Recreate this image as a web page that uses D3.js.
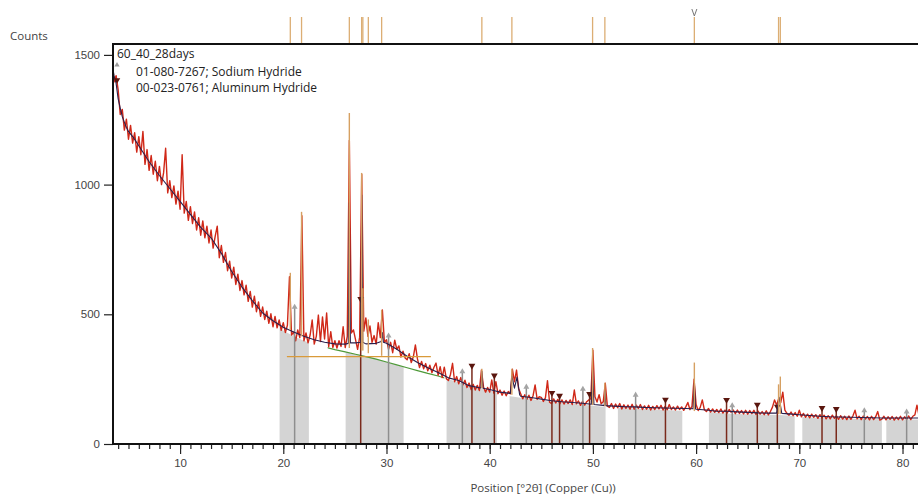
<!DOCTYPE html>
<html>
<head>
<meta charset="utf-8">
<script src="https://cdn.jsdelivr.net/npm/d3@7/dist/d3.min.js"></script>
<style>
body { margin: 0; background: #fff; overflow: hidden; }
svg { display: block; font-family: "Open Sans", "Noto Sans", sans-serif; }
</style>
</head>
<body>
<svg></svg>
<script>
var WIDTH = 918;
var HEIGHT = 494;

// scan: measured counts, one row per degree, 0.2 deg apart
var obsStart = 3.0;
var obsStep = 0.2;
var observed = [
    1610, 1540, 1495, 1395, 1420,   // 3
    1365, 1270, 1290, 1210, 1252,   // 4
    1175, 1228, 1160, 1200, 1125,
    1185, 1115, 1205, 1078, 1135,
    1055, 1112, 1040, 1090, 1015,
    1070, 1000, 1045, 1140, 968,
    1015, 950, 995, 925, 975,
    905, 1115, 890, 935, 862,       // 10
    915, 850, 895, 825, 872,
    805, 860, 795, 840, 775,
    825, 755, 800, 840, 718,
    765, 700, 738, 668, 705,
    640, 682, 615, 655, 592,
    630, 575, 612, 550, 588,
    528, 570, 510, 548, 492,
    528, 480, 512, 465, 502,
    452, 492, 448, 478, 438,
    468, 430, 458, 645, 420,        // 20
    432, 398, 440, 410, 880,
    398, 428, 390, 420, 478,
    385, 415, 497, 395, 490,
    405, 505, 375, 433, 372,
    398, 370, 398, 376, 452,
    372, 415, 1170, 428, 440,
    402, 365, 412, 1040, 435,
    486, 415, 455, 392, 418,
    385, 468, 410, 517, 392,
    402, 365, 392, 352, 400,        // 30
    365, 378, 335, 358, 332,
    325, 348, 314, 336, 382,
    328, 295, 318, 290, 310,
    282, 304, 275, 296, 312,
    265, 298, 256, 296, 252,
    245, 268, 311, 240, 260,
    232, 256, 228, 246, 218,
    235, 210, 230, 208, 226,
    206, 285, 220, 200, 218,
    200, 247, 196, 240, 194,        // 40
    208, 188, 204, 186, 202,
    194, 288, 240, 285, 214,
    194, 174, 190, 172, 188,
    168, 186, 228, 172, 182,
    180, 164, 178, 244, 161,
    156, 174, 158, 172, 155,
    170, 154, 168, 156, 170,
    152, 208, 155, 166, 149,
    165, 150, 163, 170, 175,
    362, 182, 162, 190, 155,        // 50
    163, 234, 146, 141, 156,
    137, 154, 140, 156, 135,
    151, 137, 150, 134, 153,
    134, 150, 137, 152, 133,
    147, 134, 149, 131, 145,
    133, 148, 135, 149, 131,
    145, 132, 152, 133, 143,
    131, 146, 133, 143, 130,
    143, 160, 133, 145, 250,
    152, 129, 141, 170, 132,        // 60
    125, 137, 123, 135, 122,
    133, 121, 135, 119, 131,
    119, 133, 122, 131, 117,
    131, 118, 129, 116, 130,
    115, 129, 117, 130, 114,
    127, 115, 125, 113, 128,
    112, 125, 142, 170, 150,
    175, 160, 200, 131, 118,
    111, 123, 109, 121, 107,
    130, 105, 118, 103, 115,        // 70
    101, 115, 103, 113, 99,
    113, 100, 111, 97, 109,
    97, 111, 99, 109, 95,
    109, 96, 107, 94, 108,
    95, 109, 130, 97, 107,
    94, 108, 96, 106, 93,
    107, 94, 105, 125, 92,
    96, 107, 93, 105, 95,
    106, 92, 104, 94, 107,
    93, 105, 95, 108, 94,           // 80
    107, 112, 150, 110, 97,
    102
];

// calculated profile [pos, counts]
var calculated = [
    [3.4, 1470], [3.6, 1420], [3.8, 1390], [4.0, 1330], [4.2, 1295], [4.4, 1262], [4.6, 1240],
    [4.8, 1220], [5, 1205], [5.5, 1180], [6, 1150], [7, 1088], [8, 1035], [9, 985], [10, 935],
    [11, 885], [12, 835], [13, 795], [14, 735], [15, 665], [16, 605], [17, 553], [18, 505],
    [19, 475], [20, 450], [21, 432], [22, 415], [23, 402], [24, 392], [25, 386], [26, 385],
    [26.3, 388], [26.4, 930], [26.5, 390], [27, 390], [27.5, 392], [27.6, 960], [27.7, 392],
    [28, 386], [29, 388], [29.5, 395], [29.6, 430], [29.7, 392], [30, 388], [31, 365],
    [32, 338], [33, 314], [34, 294], [35, 276], [36, 255], [37, 245], [38, 225], [39, 217],
    [39.15, 216], [39.24, 280], [39.35, 215], [40, 210], [41, 200], [42, 195], [42.15, 262],
    [42.4, 215], [42.65, 258], [42.9, 190], [43, 184], [44, 179], [45, 173], [46, 167],
    [47, 163], [48, 160], [49, 157], [49.85, 153], [49.97, 290], [50.1, 152], [51, 149],
    [51.1, 148], [51.16, 205], [51.25, 148], [52, 146], [53, 144], [54, 143], [55, 141],
    [56, 140], [57, 139], [58, 138], [59, 137], [59.7, 136], [59.83, 235], [59.95, 135],
    [60, 134], [61, 131], [62, 126], [63, 126], [64, 124], [65, 122], [66, 120], [67, 119],
    [67.8, 119], [68.05, 180], [68.3, 118], [69, 116], [70, 113], [71, 110], [72, 107],
    [73, 105], [74, 104], [75, 103], [76, 102], [77, 101], [78, 100], [79, 100], [80, 100],
    [81, 100], [82, 100]
];

// background [pos, counts]
var background = [
    [3.4, 1470], [3.6, 1420], [3.8, 1390], [4, 1330], [4.4, 1262], [5, 1205], [6, 1150],
    [7, 1088], [8, 1035], [9, 985], [10, 935], [11, 885], [12, 835], [13, 795], [14, 735],
    [15, 665], [16, 605], [17, 553], [18, 505], [19, 468], [20, 438], [21, 415], [22, 398],
    [23, 385], [24, 374], [25, 364], [26, 355], [27, 346], [28, 337], [29, 327], [30, 316],
    [31, 305], [32, 294], [33, 283], [34, 272], [35, 262], [36, 250], [37, 238], [38, 224],
    [39, 214], [40, 206], [41, 196], [42, 184], [43, 178], [44, 173], [45, 168], [46, 163],
    [47, 159], [48, 155], [49, 151], [50, 147], [51, 144], [52, 141], [53, 139], [54, 137],
    [55, 135], [56, 133], [57, 131], [58, 129], [59, 127], [60, 125], [61, 123], [62, 120],
    [63, 118], [64, 116], [65, 115], [66, 114], [67, 113], [68, 112], [69, 110], [70, 105],
    [71, 102], [72, 100], [73, 99], [74, 98], [75, 97], [76, 96], [77, 95], [78, 95],
    [79, 94], [80, 94], [81, 94], [82, 94]
];

// background-fit ranges (grey)
var bgRanges = [
    [19.64, 22.48], [26.04, 31.66], [35.82, 40.70], [41.93, 51.23], [52.42, 58.66],
    [61.24, 69.55], [70.29, 78.0], [78.43, 90]
];
var bgLineRange = [24.3, 35.6];

// peak list: position, top counts, base counts
var peakPos = [20.68, 21.77, 26.40, 27.59, 27.71, 28.24, 29.53, 39.24, 42.15, 49.97, 51.16, 59.83, 67.99, 68.16];
var peakTop = [660, 895, 1276, 1045, 600, 480, 517, 290, 290, 370, 236, 314, 230, 260];
var peakBase = [440, 415, 370, 360, 360, 350, 340, 215, 190, 150, 146, 127, 115, 115];
var selectedPeak = 59.83;

// reference patterns
var sodiumPos = [21.1, 30.2, 37.35, 43.55, 49.03, 54.14, 63.5, 76.3, 80.4];
var sodiumCounts = [524, 413, 275, 216, 208, 185, 144, 125, 120];
var aluminumPos = [27.5, 38.28, 40.45, 46.03, 46.77, 49.68, 57.03, 62.95, 65.93, 67.87, 72.2, 73.58];
var aluminumCounts = [555, 298, 260, 193, 182, 189, 167, 166, 148, 140, 135, 131];

var fwhmLine = { from: 20.35, to: 34.3, counts: 337 };

var yTicks = [0, 500, 1000, 1500];
var xTicks = [10, 20, 30, 40, 50, 60, 70, 80];

var legendTitle = '60_40_28days';
var legendItems = ['01-080-7267; Sodium Hydride', '00-023-0761; Aluminum Hydride'];

// layout
var plotLeft = 113, plotTop = 44, plotBottom = 444, plotRight = 973;

var svg = d3.select('svg').attr('width', WIDTH).attr('height', HEIGHT);

var x = d3.scaleLinear().domain([3.5, 86.83]).range([plotLeft, plotRight]);
var y = d3.scaleLinear().domain([0, 1542]).range([plotBottom, plotTop]);

var defs = svg.append('defs');
defs.append('clipPath').attr('id', 'plotClip')
    .append('rect')
    .attr('x', plotLeft).attr('y', plotTop)
    .attr('width', plotRight - plotLeft).attr('height', plotBottom - plotTop);

var rangeClip = defs.append('clipPath').attr('id', 'rangeClip');
bgRanges.forEach(function(r) {
    rangeClip.append('rect')
        .attr('x', x(r[0])).attr('y', plotTop)
        .attr('width', x(r[1]) - x(r[0])).attr('height', plotBottom - plotTop);
});
defs.append('clipPath').attr('id', 'bgLineClip')
    .append('rect')
    .attr('x', x(bgLineRange[0])).attr('y', plotTop)
    .attr('width', x(bgLineRange[1]) - x(bgLineRange[0])).attr('height', plotBottom - plotTop);

var plot = svg.append('g').attr('clip-path', 'url(#plotClip)');

// grey background regions
plot.append('g').attr('clip-path', 'url(#rangeClip)')
    .append('path')
    .datum(background)
    .attr('d', d3.area()
        .x(function(d) { return x(d[0]); })
        .y0(y(0))
        .y1(function(d) { return y(d[1]); }))
    .attr('fill', '#d4d4d4');

var line = d3.line()
    .x(function(d) { return x(d[0]); })
    .y(function(d) { return y(d[1]); });

// background line (green)
plot.append('path')
    .datum(background)
    .attr('clip-path', 'url(#bgLineClip)')
    .attr('d', line)
    .attr('fill', 'none')
    .attr('stroke', '#4f9a3a')
    .attr('stroke-width', 1.2);

// observed scan
var obsPoints = observed.map(function(v, i) { return [obsStart + i * obsStep, v]; });
plot.append('path')
    .datum(obsPoints)
    .attr('d', line)
    .attr('fill', 'none')
    .attr('stroke', '#d02818')
    .attr('stroke-width', 1.4)
    .attr('stroke-linejoin', 'round');

// reference sticks
function sticks(pos, counts, color, markerColor, symbol, name) {
    var g = plot.append('g').attr('class', name);
    g.selectAll('line')
        .data(pos)
        .enter()
        .append('line')
        .attr('x1', function(d) { return x(d); })
        .attr('x2', function(d) { return x(d); })
        .attr('y1', y(0))
        .attr('y2', function(d, i) { return y(counts[i]); })
        .attr('stroke', color)
        .attr('stroke-width', 1.5);
    g.selectAll('path')
        .data(pos)
        .enter()
        .append('path')
        .attr('d', d3.symbol().type(d3.symbolTriangle).size(symbol === 'down' ? 20 : 15))
        .attr('transform', function(d, i) {
            return 'translate(' + x(d) + ',' + (y(counts[i]) - 1) + ')' + (symbol === 'down' ? ' rotate(180)' : '');
        })
        .attr('fill', markerColor);
}
sticks(sodiumPos, sodiumCounts, '#8e8e8e', '#a4a4a4', 'up', 'sodium');
sticks(aluminumPos, aluminumCounts, '#7a2a1c', '#5a160e', 'down', 'aluminum');

// calculated profile
plot.append('path')
    .datum(calculated)
    .attr('d', line)
    .attr('fill', 'none')
    .attr('stroke', '#2a1f4c')
    .attr('stroke-width', 1.1)
    .attr('stroke-linejoin', 'round');

// peak list sticks
plot.append('g').selectAll('line')
    .data(peakPos)
    .enter()
    .append('line')
    .attr('x1', function(d) { return x(d); })
    .attr('x2', function(d) { return x(d); })
    .attr('y1', function(d, i) { return y(peakBase[i]); })
    .attr('y2', function(d, i) { return y(peakTop[i]); })
    .attr('stroke', '#d6a062')
    .attr('stroke-width', 1.4);

plot.append('line')
    .attr('x1', x(fwhmLine.from)).attr('x2', x(fwhmLine.to))
    .attr('y1', y(fwhmLine.counts)).attr('y2', y(fwhmLine.counts))
    .attr('stroke', '#d99a3a')
    .attr('stroke-width', 1.2);

// peak markers above the plot
svg.append('g').selectAll('line')
    .data(peakPos)
    .enter()
    .append('line')
    .attr('x1', function(d) { return x(d); })
    .attr('x2', function(d) { return x(d); })
    .attr('y1', 17)
    .attr('y2', plotTop)
    .attr('stroke', '#dcae74')
    .attr('stroke-width', 1.3);
svg.append('path')
    .attr('d', 'M' + (x(selectedPeak) - 2.5) + ',9 L' + x(selectedPeak) + ',16 L' + (x(selectedPeak) + 2.5) + ',9')
    .attr('fill', 'none')
    .attr('stroke', '#777')
    .attr('stroke-width', 1);

// axes
var xMinor = svg.append('g')
    .attr('transform', 'translate(0,' + plotBottom + ')')
    .call(d3.axisBottom(x).tickValues(d3.range(4, 87, 1)).tickSize(5).tickFormat(''));
xMinor.select('.domain').remove();

var xAxis = svg.append('g')
    .attr('transform', 'translate(0,' + plotBottom + ')')
    .call(d3.axisBottom(x).tickValues(xTicks).tickSize(10).tickPadding(5).tickFormat(d3.format('d')));
xAxis.select('.domain').remove();

var yAxis = svg.append('g')
    .attr('transform', 'translate(' + plotLeft + ',0)')
    .call(d3.axisLeft(y).tickValues(yTicks).tickSize(9).tickPadding(4).tickFormat(d3.format('d')));
yAxis.select('.domain').remove();

svg.selectAll('.tick line').attr('stroke', '#222').attr('stroke-width', 1.2);
svg.selectAll('.tick text').attr('fill', '#444').style('font-size', '11.5px');

// frame
svg.append('path')
    .attr('d', 'M' + plotRight + ',' + plotTop + 'H' + plotLeft + 'V' + plotBottom + 'H' + plotRight)
    .attr('fill', 'none')
    .attr('stroke', '#111')
    .attr('stroke-width', 2);

// titles
svg.append('text')
    .attr('x', 10).attr('y', 40)
    .attr('fill', '#444')
    .style('font-size', '11.5px')
    .text('Counts');

svg.append('text')
    .attr('x', (plotLeft + plotRight) / 2).attr('y', 492)
    .attr('text-anchor', 'middle')
    .attr('fill', '#444')
    .style('font-size', '11.5px')
    .text('Position [°2θ] (Copper (Cu))');

// legend
svg.append('text')
    .attr('x', 117).attr('y', 57.5)
    .attr('fill', '#222')
    .style('font-size', '12px')
    .text(legendTitle);

svg.append('g').selectAll('text')
    .data(legendItems)
    .enter()
    .append('text')
    .attr('x', 136)
    .attr('y', function(d, i) { return 75.5 + i * 16; })
    .attr('fill', '#222')
    .style('font-size', '12px')
    .text(function(d) { return d; });

svg.append('path')
    .attr('d', d3.symbol().type(d3.symbolTriangle).size(12))
    .attr('transform', 'translate(117,65)')
    .attr('fill', '#9a9a9a');
svg.append('path')
    .attr('d', d3.symbol().type(d3.symbolTriangle).size(18))
    .attr('transform', 'translate(117,80) rotate(180)')
    .attr('fill', '#5a160e');
</script>
</body>
</html>
